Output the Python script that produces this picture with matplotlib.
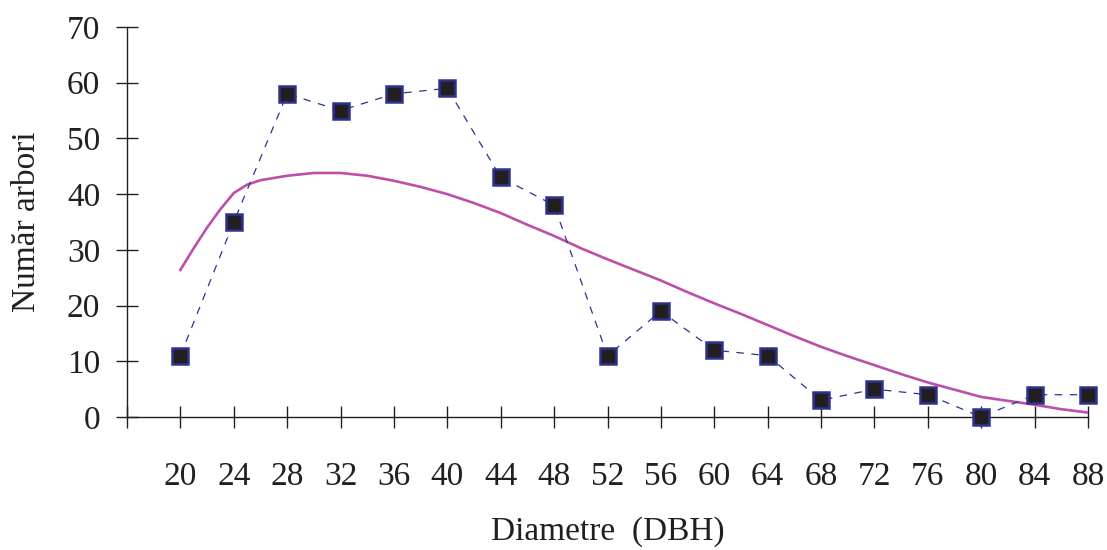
import matplotlib.pyplot as plt

# observed counts per diameter class
diam = [20, 24, 28, 32, 36, 40, 44, 48, 52, 56, 60, 64, 68, 72, 76, 80, 84, 88]
arbori = [11, 35, 58, 55, 58, 59, 43, 38, 11, 19, 12, 11, 3, 5, 4, 0, 4, 4]

# fitted distribution curve
fit_x = [20, 21, 22, 23, 24, 25, 26, 28, 30, 32, 34, 36, 38, 40, 42, 44, 46, 48,
         50, 52, 54, 56, 58, 60, 62, 64, 66, 68, 70, 72, 74, 76, 78, 80, 82, 84, 86, 88]
fit_y = [26.4, 30.3, 34.0, 37.3, 40.2, 41.7, 42.5, 43.3, 43.8, 43.8, 43.3, 42.4, 41.3,
         40.0, 38.4, 36.6, 34.5, 32.5, 30.3, 28.3, 26.4, 24.5, 22.4, 20.4, 18.5, 16.5,
         14.5, 12.6, 10.9, 9.3, 7.7, 6.2, 4.9, 3.6, 2.9, 2.2, 1.4, 0.8]

plt.rcParams['font.family'] = ['Liberation Serif', 'DejaVu Serif']

fig = plt.figure(figsize=(11.07, 5.5), dpi=100)
ax = fig.add_axes([127 / 1107, 1 - 417 / 550, (1088 - 127) / 1107, 390 / 550])

ax.plot(fit_x, fit_y, color='#bd4fa8', lw=1.9, zorder=2)
ax.plot(diam, arbori, color='#2e3192', lw=0.9, ls=(0, (6, 6)),
        marker='s', ms=12, mfc='#231f20', mec='#2e3192', mew=1.8, zorder=3,
        clip_on=False)

ax.set_xlim(16, 88)
ax.set_ylim(0, 70)
ax.set_xticks([16] + diam)
ax.set_xticklabels([''] + [str(d) for d in diam])
ax.set_yticks(range(0, 71, 10))

for s in ['top', 'right']:
    ax.spines[s].set_visible(False)
for s in ['left', 'bottom']:
    ax.spines[s].set_linewidth(1.0)
    ax.spines[s].set_color('#231f20')

ax.tick_params(axis='x', direction='inout', length=16.5, width=1.0, color='#231f20',
               labelsize=24, pad=24, labelcolor='#231f20')
ax.tick_params(axis='y', direction='inout', length=16.5, width=1.0, color='#231f20',
               labelsize=24, pad=11, labelcolor='#231f20')

ax.set_xlabel('Diametre  (DBH)', fontsize=24, color='#231f20', labelpad=17)
ax.set_ylabel('Număr arbori', fontsize=24, color='#231f20', labelpad=18)

fig.savefig('out.png', dpi=100)
